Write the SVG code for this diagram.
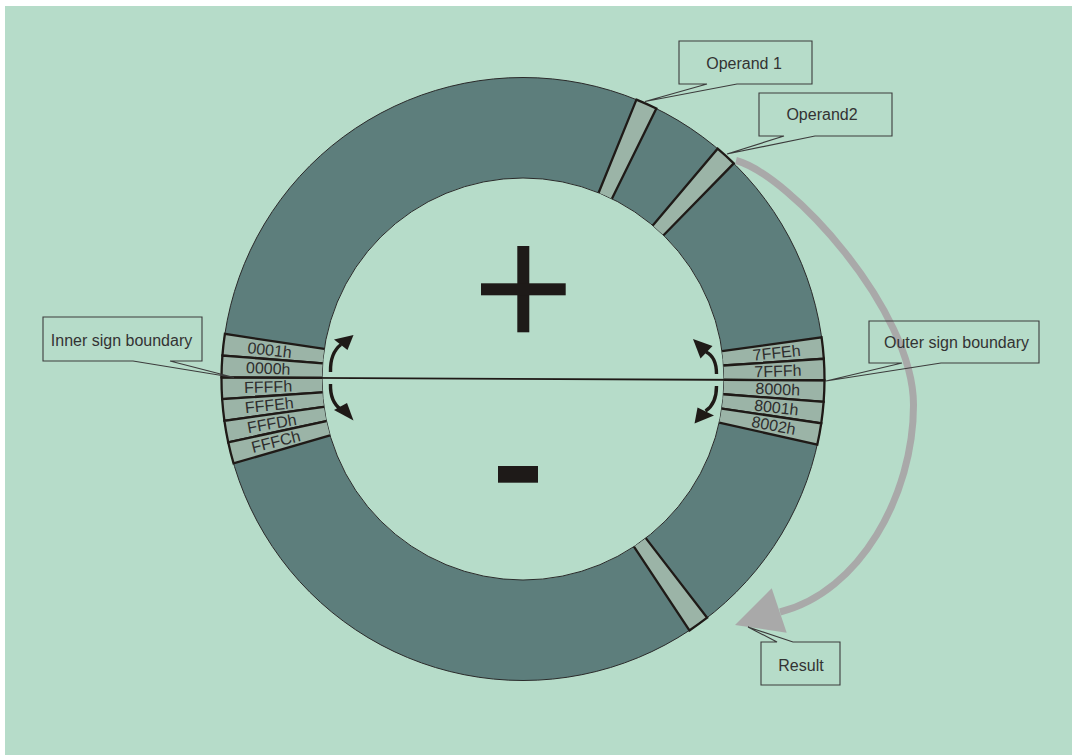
<svg xmlns="http://www.w3.org/2000/svg" width="1072" height="755" viewBox="0 0 1072 755">
<style>
.bg{fill:#b6dcc9}
.ring{fill:#5d7e7c;stroke:#2a2a2a;stroke-width:1}
.seg{fill:#9bb4a7;stroke:none}
.edge{fill:none;stroke:#1f1a17;stroke-width:2.3;stroke-linejoin:miter}
.seglbl{font-family:"Liberation Sans",Arial,sans-serif;font-size:16px;fill:#2e2e2e;text-anchor:middle}
.box{fill:none;stroke:#3c3c3c;stroke-width:1.1}
.boxtxt{font-family:"Liberation Sans",Arial,sans-serif;font-size:16px;fill:#333;text-anchor:middle}
.sign{fill:#1e1a18}
.carr{fill:none;stroke:#1f1a17;stroke-width:3.4}
.chead{fill:#1f1a17}
.garr{fill:none;stroke:#a9a9a9;stroke-width:7}
.ghead{fill:#a9a9a9}
</style>
<rect width="1072" height="755" fill="#ffffff"/>
<rect class="bg" x="5" y="6" width="1067" height="749"/>

<g id="ring">
<path class="ring" fill-rule="evenodd" d="M221.5,379 a301.5,301.5 0 1,0 603,0 a301.5,301.5 0 1,0 -603,0 Z M322,379 a201,201 0 1,0 402,0 a201,201 0 1,0 -402,0 Z"/>
</g>

<g id="seg-0001h">
<path class="seg" d="M224.89,333.91 A301.5,301.5 0 0 0 222.41,355.56 L322.61,363.37 A201,201 0 0 1 324.26,348.94 Z"/>
<path class="edge" d="M324.26,348.94 L224.89,333.91 A301.5,301.5 0 0 0 222.41,355.56 L322.61,363.37"/>
<text class="seglbl" x="268" y="384.5" transform="rotate(6.53 523 379)">0001h</text>
</g>
<g id="seg-0000h">
<path class="seg" d="M222.41,355.56 A301.5,301.5 0 0 0 221.5,377.37 L322,377.91 A201,201 0 0 1 322.61,363.37 Z"/>
<path class="edge" d="M322.61,363.37 L222.41,355.56 A301.5,301.5 0 0 0 221.5,377.37 L322,377.91"/>
<text class="seglbl" x="268" y="384.5" transform="rotate(2.39 523 379)">0000h</text>
</g>
<g id="seg-FFFFh">
<path class="seg" d="M221.5,377.37 A301.5,301.5 0 0 0 222.17,399.14 L322.45,392.43 A201,201 0 0 1 322,377.91 Z"/>
<path class="edge" d="M322,377.91 L221.5,377.37 A301.5,301.5 0 0 0 222.17,399.14 L322.45,392.43"/>
<text class="seglbl" x="268" y="384.5" transform="rotate(-1.76 523 379)">FFFFh</text>
</g>
<g id="seg-FFFEh">
<path class="seg" d="M222.17,399.14 A301.5,301.5 0 0 0 224.41,420.8 L323.94,406.87 A201,201 0 0 1 322.45,392.43 Z"/>
<path class="edge" d="M322.45,392.43 L222.17,399.14 A301.5,301.5 0 0 0 224.41,420.8 L323.94,406.87"/>
<text class="seglbl" x="268" y="384.5" transform="rotate(-5.9 523 379)">FFFEh</text>
</g>
<g id="seg-FFFDh">
<path class="seg" d="M224.41,420.8 A301.5,301.5 0 0 0 228.22,442.3 L326.48,421.2 A201,201 0 0 1 323.94,406.87 Z"/>
<path class="edge" d="M323.94,406.87 L224.41,420.8 A301.5,301.5 0 0 0 228.22,442.3 L326.48,421.2"/>
<text class="seglbl" x="268" y="384.5" transform="rotate(-10.05 523 379)">FFFDh</text>
</g>
<g id="seg-FFFCh">
<path class="seg" d="M228.22,442.3 A301.5,301.5 0 0 0 233.56,463.42 L330.04,435.28 A201,201 0 0 1 326.48,421.2 Z"/>
<path class="edge" d="M326.48,421.2 L228.22,442.3 A301.5,301.5 0 0 0 233.56,463.42 L330.04,435.28"/>
<text class="seglbl" x="268" y="384.5" transform="rotate(-14.19 523 379)">FFFCh</text>
</g>

<g id="seg-7FFEh">
<path class="seg" d="M821.6,337.3 A301.5,301.5 0 0 1 823.82,358.76 L723.55,365.5 A201,201 0 0 0 722.07,351.2 Z"/>
<path class="edge" d="M722.07,351.2 L821.6,337.3 A301.5,301.5 0 0 1 823.82,358.76 L723.55,365.5"/>
<text class="seglbl" x="778" y="384.5" transform="rotate(-5.9 523 379)">7FFEh</text>
</g>
<g id="seg-7FFFh">
<path class="seg" d="M823.82,358.76 A301.5,301.5 0 0 1 824.5,380.32 L724,379.88 A201,201 0 0 0 723.55,365.5 Z"/>
<path class="edge" d="M723.55,365.5 L823.82,358.76 A301.5,301.5 0 0 1 824.5,380.32 L724,379.88"/>
<text class="seglbl" x="778" y="384.5" transform="rotate(-1.8 523 379)">7FFFh</text>
</g>
<g id="seg-8000h">
<path class="seg" d="M824.5,380.32 A301.5,301.5 0 0 1 823.63,401.87 L723.42,394.25 A201,201 0 0 0 724,379.88 Z"/>
<path class="edge" d="M724,379.88 L824.5,380.32 A301.5,301.5 0 0 1 823.63,401.87 L723.42,394.25"/>
<text class="seglbl" x="778" y="384.5" transform="rotate(2.3 523 379)">8000h</text>
</g>
<g id="seg-8001h">
<path class="seg" d="M823.63,401.87 A301.5,301.5 0 0 1 821.23,423.3 L721.82,408.54 A201,201 0 0 0 723.42,394.25 Z"/>
<path class="edge" d="M723.42,394.25 L823.63,401.87 A301.5,301.5 0 0 1 821.23,423.3 L721.82,408.54"/>
<text class="seglbl" x="778" y="384.5" transform="rotate(6.4 523 379)">8001h</text>
</g>
<g id="seg-8002h">
<path class="seg" d="M821.23,423.3 A301.5,301.5 0 0 1 817.3,444.51 L719.2,422.68 A201,201 0 0 0 721.82,408.54 Z"/>
<path class="edge" d="M721.82,408.54 L821.23,423.3 A301.5,301.5 0 0 1 817.3,444.51 L719.2,422.68"/>
<text class="seglbl" x="778" y="384.5" transform="rotate(10.5 523 379)">8002h</text>
</g>

<g id="seg-operand1">
<path class="seg" d="M636.43,99.65 A301.5,301.5 0 0 1 656.35,108.59 L611.9,198.73 A201,201 0 0 0 598.62,192.77 Z"/>
<path class="edge" d="M598.62,192.77 L636.43,99.65 A301.5,301.5 0 0 1 656.35,108.59 L611.9,198.73"/>
</g>
<g id="seg-operand2">
<path class="seg" d="M717.61,148.72 A301.5,301.5 0 0 1 733.76,163.4 L663.51,235.27 A201,201 0 0 0 652.74,225.48 Z"/>
<path class="edge" d="M652.74,225.48 L717.61,148.72 A301.5,301.5 0 0 1 733.76,163.4 L663.51,235.27"/>
</g>
<g id="seg-result">
<path class="seg" d="M707.17,617.71 A301.5,301.5 0 0 1 689.41,630.42 L633.94,546.61 A201,201 0 0 0 645.78,538.14 Z"/>
<path class="edge" d="M645.78,538.14 L707.17,617.71 A301.5,301.5 0 0 1 689.41,630.42 L633.94,546.61"/>
</g>

<g id="plus">
<rect class="sign" x="517.3" y="246" width="12" height="86.3"/>
<rect class="sign" x="481" y="283.3" width="84.7" height="12"/>
</g>
<g id="minus">
<rect class="sign" x="498" y="466" width="40" height="16.7"/>
</g>

<g id="connectors">
<line x1="221.5" y1="377.4" x2="824.5" y2="380.3" stroke="#1f1a17" stroke-width="1.8"/>
<path class="carr" d="M330.5,372 Q330,353 341,344.5"/>
<polygon class="chead" points="353.5,335 334,339.5 347.5,350"/>
<path class="carr" d="M330.5,384 Q330,402 341,409.5"/>
<polygon class="chead" points="353.5,420.5 334,410 347,403"/>
<path class="carr" d="M716.5,374 Q716.5,357 706,352"/>
<polygon class="chead" points="693,339 700.5,358.5 712.5,346"/>
<path class="carr" d="M716.5,386 Q716.5,404 705.5,411"/>
<polygon class="chead" points="694.5,423.5 697.5,407.5 714,415.5"/>
<path class="garr" d="M736,160.5 C790,175 913.5,310 913.5,405 C913.5,495 860,592 780,612"/>
<polygon class="ghead" points="771.7,588.3 786.7,632.7 735,625"/>
</g>

<g id="callout-operand1">
<path class="box" d="M679,41 H812 V84 H737 L645,101.5 L707,84 H679 Z"/>
<text class="boxtxt" x="744" y="68.5">Operand 1</text>
</g>
<g id="callout-operand2">
<path class="box" d="M759,93 H892 V136 H815 L727,154 L784,136 H759 Z"/>
<text class="boxtxt" x="822" y="119.5">Operand2</text>
</g>
<g id="callout-result">
<path class="box" d="M761,642 H777 L748,627 L793,642 H840 V685 H761 Z"/>
<text class="boxtxt" x="801" y="670.5">Result</text>
</g>
<g id="callout-inner">
<path class="box" d="M43,317 H202 V361 H170 L234,377.5 L133,361 H43 Z"/>
<text class="boxtxt" x="121.5" y="346">Inner sign boundary</text>
</g>
<g id="callout-outer">
<path class="box" d="M869,321 H1039 V363 H941 L826,381 L902,363 H869 Z"/>
<text class="boxtxt" x="956.5" y="347.5">Outer sign boundary</text>
</g>
</svg>
